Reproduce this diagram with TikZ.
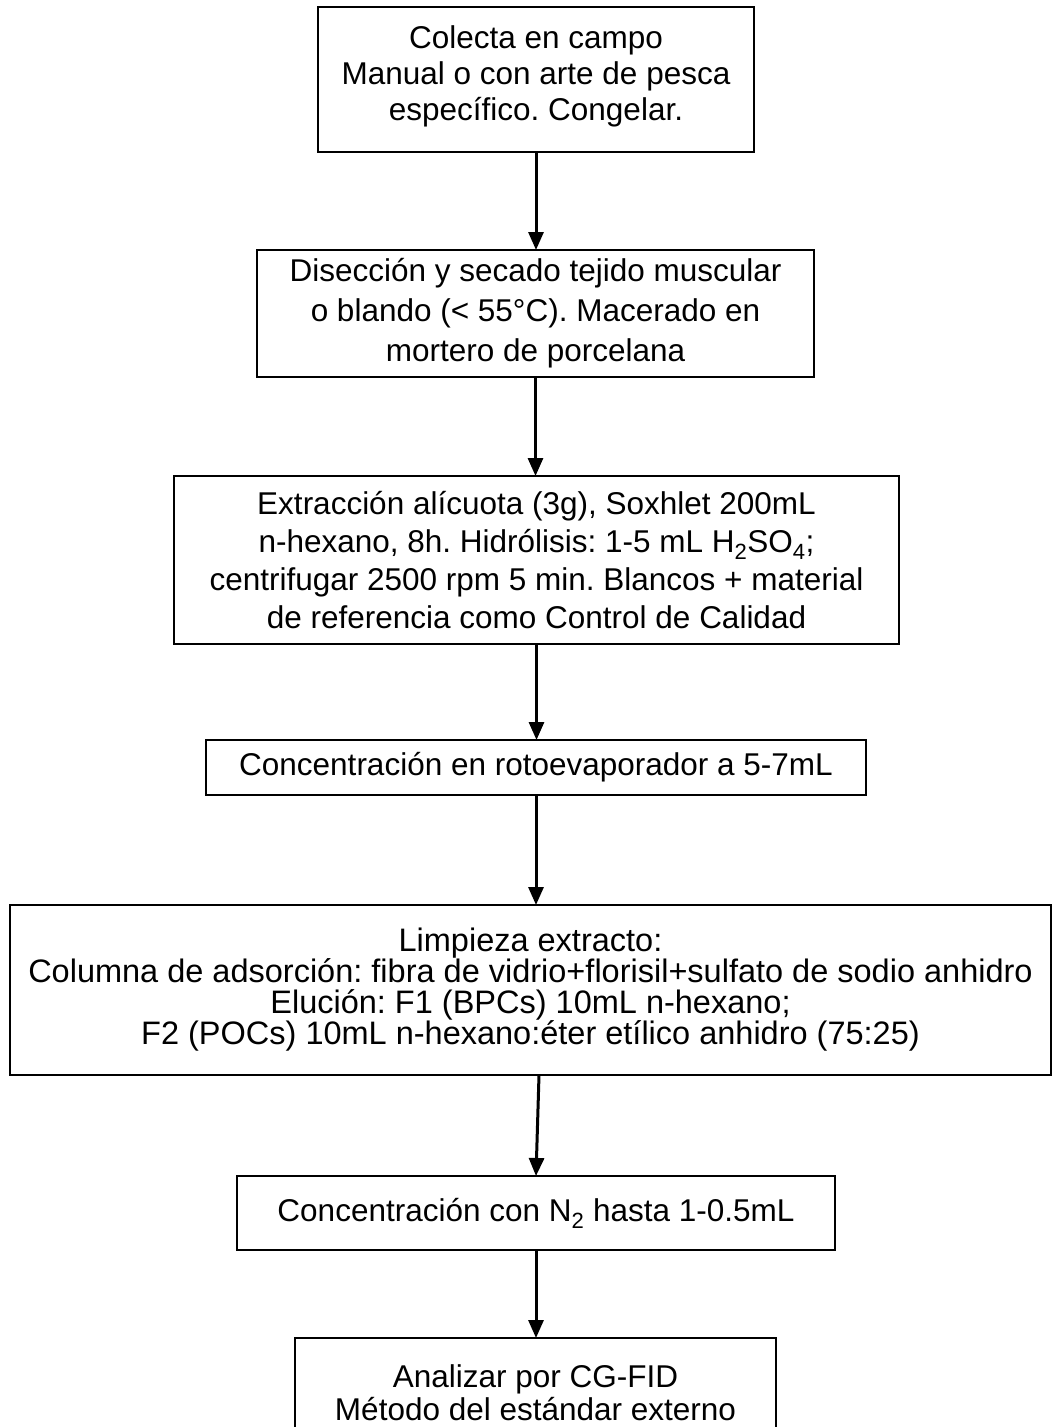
\documentclass[tikz,border=0pt]{standalone}
\usepackage{fontspec}
\setmainfont{Liberation Sans}
\usetikzlibrary{arrows.meta}
\frenchspacing
\begin{document}
\begin{tikzpicture}[x=1pt,y=-1pt,
  box/.style={draw, line width=2pt, align=center, inner sep=0pt, outer sep=0pt,
    font=\fontsize{31.5}{37}\selectfont},
  flow/.style={line width=3pt, -{Triangle[width=15pt,length=18pt]}}]
\useasboundingbox (0,0) rectangle (1053,1427);
\clip (0,0) rectangle (1053,1427);

\node[box, minimum width=436pt, minimum height=145pt, font=\fontsize{31.5}{36}\selectfont] (b1) at (536,79.5)
  {Colecta en campo\\Manual o con arte de pesca\\específico. Congelar.\\[-24pt]};
\node[box, minimum width=557pt, minimum height=127pt, font=\fontsize{31.5}{40}\selectfont] (b2) at (535.5,313.5)
  {Disección y secado tejido muscular\\o blando (< 55°C). Macerado en\\mortero de porcelana};
\node[box, minimum width=725pt, minimum height=168pt, font=\fontsize{31.5}{38}\selectfont] (b3) at (536.5,560)
  {Extracción alícuota (3g), Soxhlet 200mL\\n-hexano, 8h. Hidrólisis: 1-5 mL H\textsubscript{2}SO\textsubscript{4};\\centrifugar 2500 rpm 5 min. Blancos + material\\de referencia como Control de Calidad};
\node[box, minimum width=660pt, minimum height=55pt] (b4) at (536,767.5)
  {Concentración en rotoevaporador a 5-7mL};
\node[box, minimum width=1041pt, minimum height=170pt, font=\fontsize{32.5}{31}\selectfont] (b5) at (530.5,990)
  {Limpieza extracto:\\Columna de adsorción: fibra de vidrio+florisil+sulfato de sodio anhidro\\Elución: F1 (BPCs) 10mL n-hexano;\\F2 (POCs) 10mL n-hexano:éter etílico anhidro (75:25)};
\node[box, minimum width=598pt, minimum height=74pt] (b6) at (536,1213)
  {Concentración con N\textsubscript{2} hasta 1-0.5mL};
\node[box, minimum width=481pt, minimum height=110pt, font=\fontsize{31.5}{33}\selectfont] (b7) at (535.5,1393)
  {Analizar por CG-FID\\Método del estándar externo};

\draw[flow] (b1.south) -- (b1.south |- b2.north);
\draw[flow] (b2.south) -- (b2.south |- b3.north);
\draw[flow] (b3.south) -- (b3.south |- b4.north);
\draw[flow] (b4.south) -- (b4.south |- b5.north);
\draw[flow] ([xshift=3pt]b6.north |- b5.south) -- (b6.north);
\draw[flow] (b6.south) -- (b6.south |- b7.north);
\end{tikzpicture}
\end{document}
